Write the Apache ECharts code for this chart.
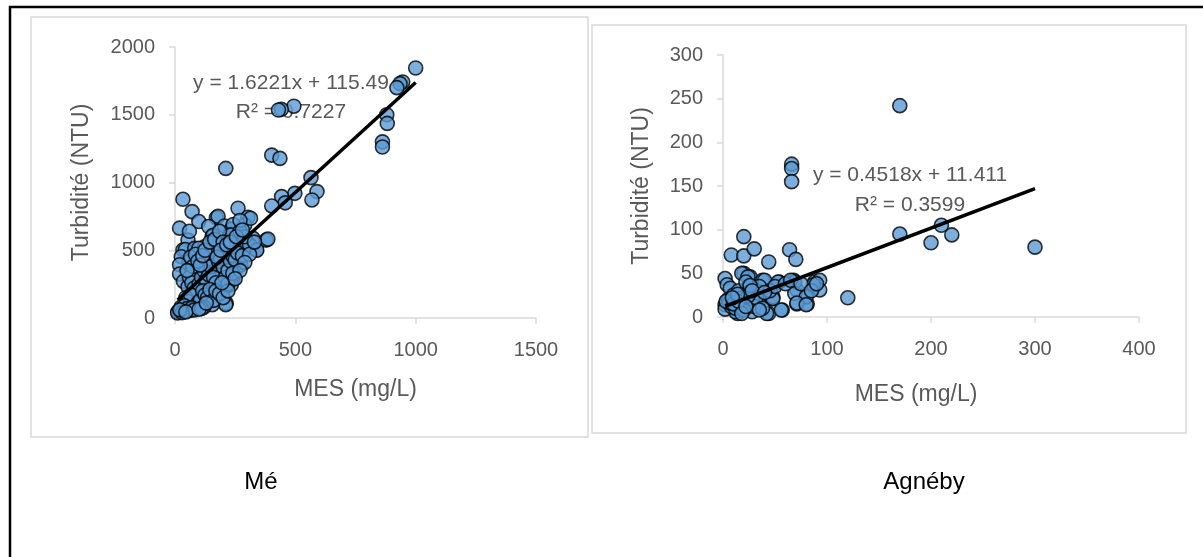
<!DOCTYPE html>
<html>
<head>
<meta charset="utf-8">
<script src="https://cdn.jsdelivr.net/npm/echarts@6/dist/echarts.min.js"></script>
<style>
html,body{margin:0;padding:0;background:#fff;}
#c{width:1203px;height:557px;}
</style>
</head>
<body>
<div id="c"></div>
<script>
// ---- Data: Mé (left panel) ----
const mesMe = [1000,946,935,922,494,442,430,880,882,862,862,402,436,211,565,590,498,443,458,402,569,33,71,262,303,172,179,99,140,206,234,242,19,290,155,158,324,379,386,54,227,234,33,43,82,123,172,206,283,338,137,248,26,59,19,91,19,35,93,137,192,227,262,241,151,213,54,102,179,213,211,155,75,33,12,67,83,35,19,11,226,274,195,234,155,234,132,163,99,140,314,270,60,70,80,90,100,110,120,130,140,150,160,170,180,190,200,210,220,230,240,250,260,280,300,310,290,270,65,75,85,95,105,115,125,145,165,185,200,50,45,55,65,85,95,105,115,125,135,145,160,170,185,200,220,240,25,40,50,60,70,80,30,20,45,120,110,100,130,175,190,215,230,255,280,340,310,330,290,270,250,220,195,60];
const turbMe = [1845,1742,1730,1700,1563,1540,1535,1500,1436,1300,1262,1202,1178,1104,1036,933,920,896,850,827,871,876,785,810,743,740,750,712,675,679,654,690,663,686,601,610,588,575,582,575,612,613,502,505,514,526,539,507,531,502,465,477,452,417,393,343,325,270,342,404,354,404,379,293,231,231,231,157,170,108,98,98,96,64,46,98,135,61,49,37,478,393,343,307,233,245,429,515,515,478,736,640,300,260,220,180,250,300,350,280,320,380,300,260,420,440,380,300,350,420,460,430,480,460,550,540,600,720,450,380,470,420,390,460,500,560,580,640,560,350,150,120,170,80,110,130,200,170,150,210,130,200,180,150,250,330,80,90,70,55,75,60,40,60,45,80,70,65,110,450,500,540,560,600,650,500,470,560,410,350,290,200,260,640];

// ---- Data: Agnéby (right panel) ----
const mesAg = [170,66,66,66,210,170,200,220,300,120,20,8,20,30,64,70,44,2,4,20,26,38,54,68,88,93,88,93,71,80,71,81,57,44,47,24,14,18,24,40,53,69,87,7,23,34,48,69,80,2,12,23,34,48,56,71,80,12,28,42,2,5,10,15,18,22,25,28,30,35,16,8,6,12,20,32,38,45,50,60,65,75,85,90,3,10,15,24,26,28,35,18,22,14,9,40];
const turbAg = [242,175,170,155,105,95,85,94,80,22,92,71,70,78,77,66,63,44,37,50,46,42,40,42,40,42,35,31,31,25,15,15,8,4,21,14,4,50,46,42,40,40,37,33,33,29,23,27,23,14,18,14,16,21,8,16,14,6,6,4,9,20,25,30,22,40,28,20,12,35,12,12,16,10,8,22,10,30,35,38,42,38,30,38,18,15,18,24,36,30,8,4,12,26,22,28];

// ---- Trendline coefficients (as printed on the chart) ----
const trendMe = {slope: 1.6221, intercept: 115.49, r2: '0.7227'};
const trendAg = {slope: 0.4518, intercept: 11.411, r2: '0.3599'};

// ---- Axis ticks ----
const xTicksMe = [0, 1500, 500];
const yTicksMe = [0, 2000, 500];
const xTicksAg = [0, 400, 100];
const yTicksAg = [0, 300, 50];

const captions = ['Mé', 'Agnéby'];

const FONT = 'Liberation Sans, Arial, sans-serif';
const GREY = '#595959';

function pairs(xs, ys){ return xs.map((x,i)=>[x, ys[i]]); }
function trend(xs, t){
  const lo = Math.min(...xs), hi = Math.max(...xs);
  return [[lo, t.slope*lo + t.intercept],[hi, t.slope*hi + t.intercept]];
}
function eqText(t){
  return 'y = ' + t.slope.toFixed(4) + 'x + ' + t.intercept;
}
const plain = v => String(v);

function xAxis(idx, ticks, namePad){
  return {
    type:'value', gridIndex: idx, min: ticks[0], max: ticks[1], interval: ticks[2],
    name:'MES (mg/L)', nameLocation:'middle', nameGap: idx===0 ? 60 : 66,
    nameTextStyle:{color:GREY, fontSize:23, fontFamily:FONT, padding: namePad},
    axisLine:{show:true, onZero:false, lineStyle:{color:'#d9d9d9', width:1.5}},
    axisTick:{show:true, length:6, lineStyle:{color:'#d9d9d9', width:1.5}},
    axisLabel:{color:GREY, fontSize:20, fontFamily:FONT, margin:22, formatter: plain},
    splitLine:{show:false}
  };
}
function yAxis(idx, ticks, gap){
  return {
    type:'value', gridIndex: idx, min: ticks[0], max: ticks[1], interval: ticks[2],
    name:'Turbidité (NTU)', nameLocation:'middle', nameGap: gap,
    nameTextStyle:{color:GREY, fontSize:23, fontFamily:FONT},
    axisLine:{show:true, onZero:false, lineStyle:{color:'#d9d9d9', width:1.5}},
    axisTick:{show:true, length:6, lineStyle:{color:'#d9d9d9', width:1.5}},
    axisLabel:{color:GREY, fontSize:20, fontFamily:FONT, margin:20, formatter: plain},
    splitLine:{show:false}
  };
}

const scatterStyle = {color:'#5B9BD5', borderColor:'#000', borderWidth:1.6};

function txt(x, y, text, size, color){
  return {type:'text', z:1, x:x, y:y, style:{text:text, fill:color, fontSize:size, fontFamily:FONT, align:'center', verticalAlign:'middle'}};
}

const option = {
  animation:false,
  backgroundColor:'#fff',
  grid:[
    {left:175, top:47, width:361, height:271},
    {left:723, top:55, width:416, height:262}
  ],
  xAxis:[ xAxis(0, xTicksMe, [0,0,0,0]), xAxis(1, xTicksAg, [0,30,0,0]) ],
  yAxis:[ yAxis(0, yTicksMe, 82), yAxis(1, yTicksAg, 70) ],
  graphic:[
    {type:'rect', z:0, shape:{x:10, y:7, width:1400, height:800}, style:{fill:null, stroke:'#000', lineWidth:2.5}},
    {type:'rect', z:0, shape:{x:31, y:17, width:557, height:420}, style:{fill:'#fff', stroke:'#d9d9d9', lineWidth:1.5}},
    {type:'rect', z:0, shape:{x:592, y:25, width:594, height:408}, style:{fill:'#fff', stroke:'#d9d9d9', lineWidth:1.5}},
    txt(291, 83, eqText(trendMe), 21, GREY),
    txt(291, 112, 'R² = ' + trendMe.r2, 21, GREY),
    txt(910, 175, eqText(trendAg), 21, GREY),
    txt(910, 205, 'R² = ' + trendAg.r2, 21, GREY),
    txt(261, 482, captions[0], 24, '#000'),
    txt(924, 482, captions[1], 24, '#000')
  ],
  series:[
    {type:'scatter', xAxisIndex:0, yAxisIndex:0, data:pairs(mesMe, turbMe), symbol:'circle', symbolSize:14, itemStyle:scatterStyle, z:3},
    {type:'line', xAxisIndex:0, yAxisIndex:0, data:trend(mesMe, trendMe), symbol:'none', lineStyle:{color:'#000', width:3.5}, z:4},
    {type:'scatter', xAxisIndex:1, yAxisIndex:1, data:pairs(mesAg, turbAg), symbol:'circle', symbolSize:14, itemStyle:scatterStyle, z:3},
    {type:'line', xAxisIndex:1, yAxisIndex:1, data:trend(mesAg, trendAg), symbol:'none', lineStyle:{color:'#000', width:3.5}, z:4}
  ]
};

const chart = echarts.init(document.getElementById('c'), null, {renderer:'canvas'});
chart.setOption(option);
</script>
</body>
</html>
